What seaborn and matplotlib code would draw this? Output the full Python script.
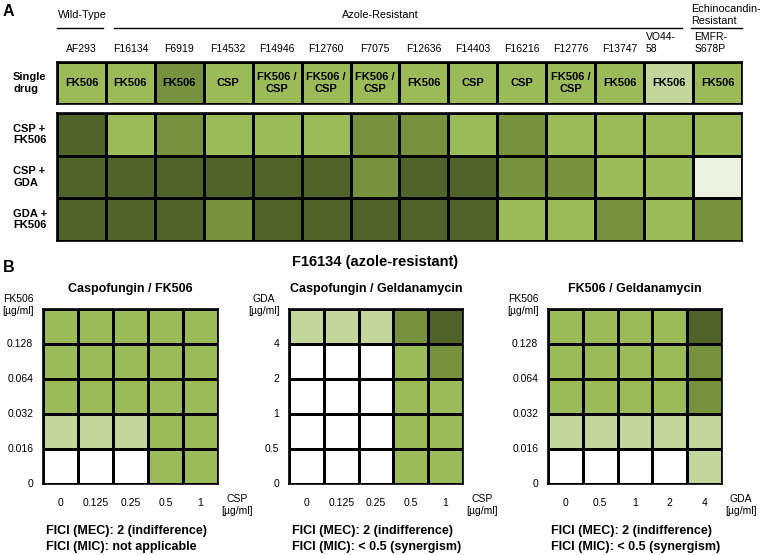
import numpy as np
import pandas as pd
import matplotlib
matplotlib.use('Agg')
import matplotlib.pyplot as plt
import seaborn as sns
from matplotlib.colors import ListedColormap
from matplotlib.lines import Line2D
import matplotlib.transforms as mtransforms

plt.rcParams['font.family'] = ['Liberation Sans', 'DejaVu Sans']

# ---------------- data ----------------
# growth levels: 0 white, 1 very pale, 2 pale, 3 light, 4 medium, 5 dark
level_colors = ['#ffffff', '#ebf1de', '#c3d69b', '#9bbb59', '#76923c', '#4f6228']

strains = ['AF293', 'F16134', 'F6919', 'F14532', 'F14946', 'F12760', 'F7075',
           'F12636', 'F14403', 'F16216', 'F12776', 'F13747', 'VO44-\n58', 'EMFR-\nS678P']
single_drug_agent = ['FK506', 'FK506', 'FK506', 'CSP', 'FK506 /\nCSP', 'FK506 /\nCSP',
                     'FK506 /\nCSP', 'FK506', 'CSP', 'CSP', 'FK506 /\nCSP', 'FK506',
                     'FK506', 'FK506']
single_drug_level = [3, 3, 4, 3, 3, 3, 3, 3, 3, 3, 3, 3, 2, 3]

combo_rows = ['CSP +\nFK506', 'CSP +\nGDA', 'GDA +\nFK506']
csp_fk506 = [5, 3, 4, 3, 3, 3, 4, 4, 3, 4, 3, 3, 3, 3]
csp_gda = [5, 5, 5, 5, 5, 5, 4, 5, 5, 4, 4, 3, 3, 1]
gda_fk506 = [5, 5, 5, 4, 5, 5, 5, 5, 5, 3, 3, 4, 3, 4]

# panel B checkerboards (rows top -> bottom)
fk506_ticks = ['0.128', '0.064', '0.032', '0.016', '0']
gda_ticks_y = ['4', '2', '1', '0.5', '0']
csp_ticks = ['0', '0.125', '0.25', '0.5', '1']
gda_ticks_x = ['0', '0.5', '1', '2', '4']
grid_csp_fk506 = [[3, 3, 3, 3, 3], [3, 3, 3, 3, 3], [3, 3, 3, 3, 3],
                  [2, 2, 2, 3, 3], [0, 0, 0, 3, 3]]
grid_csp_gda = [[2, 2, 2, 4, 5], [0, 0, 0, 3, 4], [0, 0, 0, 3, 3],
                [0, 0, 0, 3, 3], [0, 0, 0, 3, 3]]
grid_fk506_gda = [[3, 3, 3, 3, 5], [3, 3, 3, 3, 4], [3, 3, 3, 3, 4],
                  [2, 2, 2, 2, 2], [0, 0, 0, 0, 2]]

# ---------------- figure ----------------
W, H = 760, 555
fig = plt.figure(figsize=(W / 100, H / 100), dpi=100)
cmap = ListedColormap(level_colors)


def px_axes(x0, y0, x1, y1):
    return fig.add_axes([x0 / W, 1 - y1 / H, (x1 - x0) / W, (y1 - y0) / H])


def ftext(x, y, s, **kw):
    fig.text(x / W, 1 - y / H, s, **kw)


def frame(ax, lw=1.2):
    for sp in ax.spines.values():
        sp.set_visible(True)
        sp.set_linewidth(lw)
        sp.set_color('black')


hm_kw = dict(cmap=cmap, vmin=-0.5, vmax=5.5, cbar=False, linewidths=1.0,
             linecolor='black', square=False)

# ---- Panel A: single drug row ----
ax1 = px_axes(57, 62, 742, 104)
df_single = pd.DataFrame([single_drug_level], columns=strains, index=['Single\ndrug'])
sns.heatmap(df_single, ax=ax1, annot=np.array([single_drug_agent]), fmt='',
            annot_kws=dict(fontsize=8, fontweight='bold', color='black'), **hm_kw)
frame(ax1)
ax1.xaxis.tick_top()
ax1.set_xticks(np.arange(len(strains)) + 0.5)
ax1.set_xticklabels(strains, fontsize=7.5, rotation=0, ha='center', multialignment='left')
ax1.tick_params(axis='x', length=0, pad=6)
for lbl in ax1.get_xticklabels():
    if '\n' in lbl.get_text():
        lbl.set_ha('left')
        lbl.set_transform(lbl.get_transform() +
                          mtransforms.ScaledTranslation(-23 / 100, 0, fig.dpi_scale_trans))
ax1.set_yticklabels(['Single\ndrug'], rotation=0, ha='left', fontsize=8, fontweight='bold')
ax1.tick_params(axis='y', length=0, pad=44 / 1.389)
ax1.set_xlabel('')
ax1.set_ylabel('')

# ---- Panel A: combinations ----
ax2 = px_axes(57, 113, 742, 241)
df_combo = pd.DataFrame([csp_fk506, csp_gda, gda_fk506], columns=strains, index=combo_rows)
sns.heatmap(df_combo, ax=ax2, **hm_kw)
frame(ax2)
ax2.set_xticks([])
ax2.set_yticklabels(combo_rows, rotation=0, ha='left', fontsize=8, fontweight='bold')
ax2.tick_params(axis='y', length=0, pad=44 / 1.389)
ax2.set_xlabel('')
ax2.set_ylabel('')

# group headers
trans = mtransforms.blended_transform_factory(ax1.transData, fig.transFigure)
yline = 1 - 28 / H
for (x0, x1) in [(0.0, 0.94), (1.16, 12.78), (12.96, 14.0)]:
    fig.add_artist(Line2D([x0, x1], [yline, yline], transform=trans, color='black', lw=1.0))
ax1.text(0.02, 1 - 15 / H, 'Wild-Type', transform=trans, fontsize=7.8, va='center', ha='left')
ax1.text(6.6, 1 - 15 / H, 'Azole-Resistant', transform=trans, fontsize=7.8, va='center', ha='center')
ax1.text(12.96, 1 - 15 / H, 'Echinocandin-\nResistant', transform=trans, fontsize=7.8,
         va='center', ha='left', linespacing=1.2)

ftext(3, 11, 'A', fontsize=11.5, fontweight='bold', va='center', ha='left')
ftext(3, 268, 'B', fontsize=11.5, fontweight='bold', va='center', ha='left')
ftext(375, 262, 'F16134 (azole-resistant)', fontsize=10.5, fontweight='bold', va='center', ha='center')

# ---- Panel B ----
panels = [
    dict(box=(43, 309, 218, 484), grid=grid_csp_fk506, yt=fk506_ticks, xt=csp_ticks,
         title='Caspofungin / FK506', ylab='FK506', xlab='CSP',
         fici=['FICI (MEC): 2 (indifference)', 'FICI (MIC): not applicable']),
    dict(box=(289, 309, 463, 484), grid=grid_csp_gda, yt=gda_ticks_y, xt=csp_ticks,
         title='Caspofungin / Geldanamycin', ylab='GDA', xlab='CSP',
         fici=['FICI (MEC): 2 (indifference)', 'FICI (MIC): < 0.5 (synergism)']),
    dict(box=(548, 309, 722, 484), grid=grid_fk506_gda, yt=fk506_ticks, xt=gda_ticks_x,
         title='FK506 / Geldanamycin', ylab='FK506', xlab='GDA',
         fici=['FICI (MEC): 2 (indifference)', 'FICI (MIC): < 0.5 (synergism)']),
]

for p in panels:
    x0, y0, x1, y1 = p['box']
    ax = px_axes(x0, y0, x1, y1)
    sns.heatmap(pd.DataFrame(p['grid']), ax=ax, **hm_kw)
    frame(ax)
    ax.set_xticks(np.arange(5) + 0.5)
    ax.set_xticklabels(p['xt'], fontsize=7.5, rotation=0)
    ax.set_yticks(np.arange(1, 6))
    ax.set_yticklabels(p['yt'], fontsize=7.5, rotation=0)
    ax.tick_params(axis='x', length=0, pad=10)
    ax.tick_params(axis='y', length=0, pad=7)
    ax.set_xlabel('')
    ax.set_ylabel('')
    wpx = x1 - x0
    ax.set_title(p['title'], fontsize=9, fontweight='bold', pad=12)
    ax.text(-25 / wpx, 1 + 4 / wpx, p['ylab'] + '\n[µg/ml]', transform=ax.transAxes,
            fontsize=7.5, ha='center', va='center', linespacing=1.3)
    ax.text(1 + 19 / wpx, -21 / wpx, p['xlab'] + '\n[µg/ml]', transform=ax.transAxes,
            fontsize=7.5, ha='center', va='center', linespacing=1.3)
    ax.text(3 / wpx, -47 / wpx, p['fici'][0], transform=ax.transAxes, fontsize=9,
            fontweight='bold', ha='left', va='center')
    ax.text(3 / wpx, -63 / wpx, p['fici'][1], transform=ax.transAxes, fontsize=9,
            fontweight='bold', ha='left', va='center')

fig.savefig('out.png', dpi=100)
